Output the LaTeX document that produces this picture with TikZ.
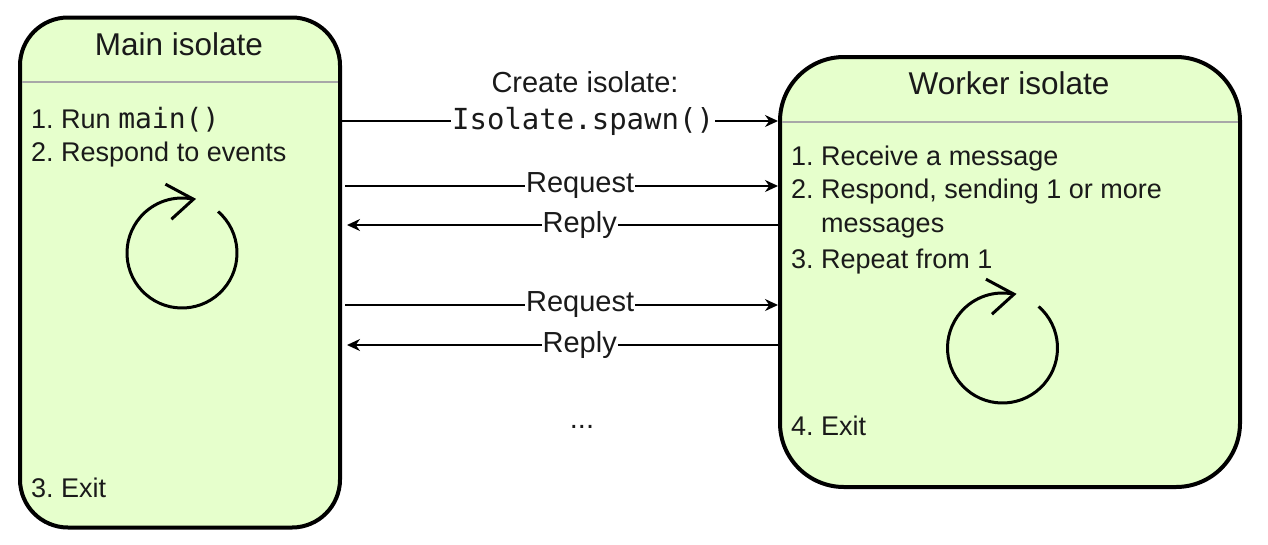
\documentclass[tikz,border=0pt]{standalone}
\usepackage{fontspec}
\setmainfont{Liberation Sans}
\setmonofont{DejaVu Sans Mono}
\usetikzlibrary{arrows.meta}
\definecolor{boxfill}{HTML}{E6FFCC}
\definecolor{txt}{HTML}{1A1A1A}
\definecolor{sep}{HTML}{A8A8A8}
\frenchspacing
\tikzset{
  isobox/.style={draw=black, fill=boxfill, line width=4pt, inner sep=0pt},
  sepline/.style={draw=sep, line width=2pt},
  body/.style={font=\fontsize{27}{33}\selectfont, text=txt, inner sep=0pt, anchor=base west},
  head/.style={font=\fontsize{31.5}{36}\selectfont, text=txt, inner sep=0pt, anchor=base},
  msg/.style={line width=1.5pt, -{Stealth[length=13pt,width=12pt]}},
  lbl/.style={fill=white, inner sep=1pt, text=txt, font=\fontsize{29}{33}\selectfont},
  mlbl/.style={fill=white, inner sep=1pt, text=txt, font=\fontsize{29}{33}\ttfamily},
  loop/.style={line width=3pt},
  barb/.style={line width=3pt, line join=miter}
}
\begin{document}
\begin{tikzpicture}[x=1pt,y=-1pt]
\useasboundingbox (0,0) rectangle (1268,544);
% boxes
\node[isobox, rounded corners=48pt, minimum width=320pt, minimum height=510pt] (main) at (180,272.5) {};
\node[isobox, rounded corners=64pt, minimum width=460pt, minimum height=430pt] (worker) at (1010,272) {};
\draw[sepline] (22,82) -- (338,82);
\draw[sepline] (782,122) -- (1238,122);
% headers
\node[head] (mh) at (179,55) {Main isolate};
\node[head] (wh) at (1009,94) {Worker isolate};
% main body
\node[body] (m1) at (31,128) {1. Run {\fontsize{28}{33}\ttfamily main()}};
\node[body] (m2) at (31,161) {2. Respond to events};
\node[body] (m3) at (31,497) {3. Exit};
% worker body
\node[body] (w1) at (791,165) {1. Receive a message};
\node[body] (w2) at (791,198) {2. Respond, sending 1 or more};
\node[body] (w2b) at (821,232) {messages};
\node[body] (w3) at (791,268) {3. Repeat from 1};
\node[body] (w4) at (791,435) {4. Exit};
% loops
\coordinate (mc) at (182,253);
\coordinate (wc) at (1002.5,348);
\draw[loop] (mc) ++(-49:55) arc[start angle=-49, end angle=282, radius=55] coordinate (mtip);
\draw[barb] (mtip) ++(-28,-15) -- (mtip) -- ++(-22,20);
\draw[loop] (wc) ++(-49:55) arc[start angle=-49, end angle=282, radius=55] coordinate (wtip);
\draw[barb] (wtip) ++(-28,-15) -- (wtip) -- ++(-22,20);
% connector endpoints
\coordinate (s0) at (342,121);
\coordinate (s1) at (778,121);
\coordinate (q1a) at (345,186);
\coordinate (q1b) at (778,186);
\coordinate (r1a) at (778,225);
\coordinate (r1b) at (347,225);
\coordinate (q2a) at (345,305);
\coordinate (q2b) at (778,305);
\coordinate (r2a) at (778,345);
\coordinate (r2b) at (347,345);
% connectors
\node[lbl, fill=none, anchor=base] (create) at (585,92) {Create isolate:};
\draw[msg] (s0) -- node[mlbl, pos=0.553] (spawn) {Isolate.spawn()} (s1);
\draw[msg] (q1a) -- node[lbl, pos=0.543] (req1) {Request} (q1b);
\draw[msg] (r1a) -- node[lbl, pos=0.46] (rep1) {Reply} (r1b);
\draw[msg] (q2a) -- node[lbl, pos=0.543] (req2) {Request} (q2b);
\draw[msg] (r2a) -- node[lbl, pos=0.46] (rep2) {Reply} (r2b);
\node[lbl, anchor=base] (dots) at (582,428) {...};
\end{tikzpicture}
\end{document}
